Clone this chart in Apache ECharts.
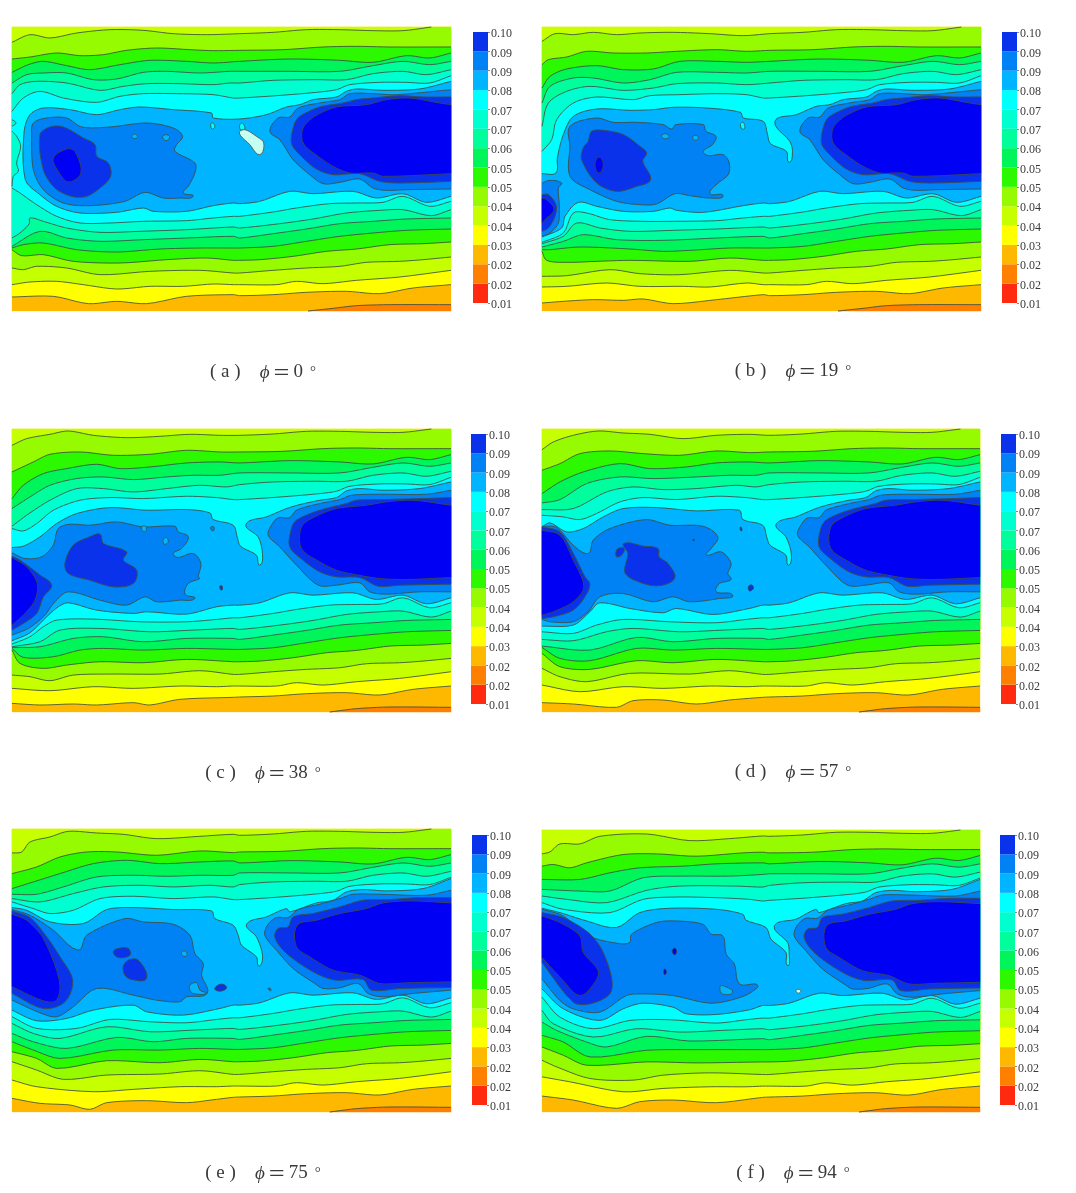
<!DOCTYPE html>
<html><head><meta charset="utf-8">
<style>html,body{margin:0;padding:0;background:#fff}#c{width:1076px;height:1193px;filter:blur(0.4px)}</style>
<script src="https://cdn.jsdelivr.net/npm/echarts@6/dist/echarts.min.js"></script></head>
<body><div id="c"></div>
<script>
// ---- legend ----
const tickLabels=['0.01','0.02','0.02','0.03','0.04','0.04','0.05','0.05','0.06','0.07','0.07','0.08','0.09','0.09','0.10'];
const bandColors=['#ff2a10','#ff8000','#ffb800','#ffff00','#c6ff00','#96fb00','#2cf800','#00f55a','#00ff9c','#00ffd0','#00ffff','#00b4ff','#0082f5','#0a32ea','#0000f5','#c4fff2'];
const captionLetters=['a','b','c','d','e','f'];
const captionAngles=[0,19,38,57,75,94];

// ---- contour positions, in axis units (x 36..1354) ----
// right-hand parts of the long contours (x counted from 720), shared by the panels
const rT=[
 [0,42,100,38,200,30,300,30,400,33,490,33,575,22,634,22],
 [0,92,130,90,250,82,350,80,450,82,634,82],
 [0,125,150,118,300,122,400,128,500,108,570,115,634,100],
 [0,155,150,155,300,155,400,138,490,125,570,135,634,125],
 [0,190,100,182,230,180,320,180,400,162,490,155,560,165,634,150],
 [0,235,110,228,230,218,290,210,330,195,420,188,500,188,570,190,634,168]];
const rB=[
 [0,828,100,825,200,818,320,815,420,822,520,805,634,795],
 [0,795,110,795,170,785,250,792,350,782,480,772,634,752],
 [0,760,100,752,200,745,300,740,380,728,480,725,550,720,634,712],
 [0,722,60,720,160,710,260,695,350,688,450,675,550,672,634,667],
 [0,685,100,680,200,665,300,650,400,640,500,632,634,628],
 [0,655,100,642,200,628,300,612,400,605,500,598,634,595],
 [0,625,120,612,220,598,320,580,420,572,490,570,575,588,634,570],
 [0,590,100,577,170,565,270,552,350,550,430,548,490,530,570,560,634,545]];
const rB11=[0,552,60,545,150,515,220,522,340,515,410,535,490,522,560,548,634,530];
const rOrangeAB=[205,874,280,866,350,858,450,855,634,855,634,874];
const rOrangeCF=[270,873,350,863,450,858,634,859,634,873];
// right-hand blob, three variants
const abT11=[180,255,220,240,290,232,320,215,350,208,430,212,540,208,634,185];
const abT12=[90,335,115,295,150,292,175,265,250,248,300,240,330,222,400,222,470,225,634,210];
const abB12=[90,335,120,360,160,420,210,465,250,492,300,488,360,478,400,505,440,512,500,510,634,508];
const abT13=[155,370,165,310,180,290,240,262,310,250,350,240,400,235,480,228,550,232,634,232];
const abB13=[155,370,185,410,230,448,280,465,360,462,420,485,480,490,634,485];
const abT14=[190,370,190,325,225,290,290,262,380,255,440,240,510,235,600,250,634,255];
const abB14=[190,370,235,410,280,440,330,460,400,460,430,470,634,462];
const cdT11=[180,250,240,237,290,229,320,209,360,202,430,207,540,202,634,182];
const cdT12=[85,342,95,312,115,290,150,289,170,267,240,247,300,235,335,222,420,219,560,219,634,207];
const cdB12=[85,342,120,377,170,432,235,492,290,492,360,485,390,512,440,519,540,512,634,512];
const cdT13=[150,377,155,322,170,297,240,267,320,247,350,237,430,235,550,232,634,229];
const cdB13=[150,377,190,417,240,452,290,467,360,469,415,495,480,492,634,489];
const cdT14=[185,382,185,317,225,287,290,262,380,252,440,242,520,237,634,252];
const cdB14=[185,382,240,422,290,447,340,459,420,472,500,475,634,469];
const efT11=[150,272,230,245,280,237,320,212,370,205,440,209,550,202,634,172];
const efT12=[75,342,85,309,110,289,145,289,175,265,240,249,300,232,340,219,420,219,560,222,634,207];
const efB12=[75,342,110,387,160,442,225,487,250,502,300,500,355,487,385,517,430,527,520,517,634,507];
const efT13=[105,347,115,322,145,317,160,287,220,277,300,257,370,237,450,235,540,229,634,229];
const efB13=[105,347,130,387,180,427,240,462,290,477,370,475,395,507,480,502,634,499];
const efT14=[170,377,172,312,230,297,300,277,380,262,430,245,510,239,634,245];
const efB14=[170,377,210,407,280,447,360,462,420,487,500,485,634,482];

// panel (a)
const aT=[
 [36,68,90,45,150,55,230,40,330,30,430,32,520,42,620,45],
 [36,118,90,112,170,100,240,108,310,105,380,92,470,85,570,90,640,93],
 [36,158,85,135,130,125,200,138,270,150,360,135,450,122,560,125,640,130],
 [36,190,80,165,130,160,200,160,280,180,350,178,430,158,500,155,600,160,690,155],
 [36,222,60,195,110,185,200,190,300,212,370,200,440,192,540,192,640,195,690,190],
 [36,275,70,235,120,215,190,235,290,248,360,230,430,222,530,222,640,225,700,235]];
const aB=[
 [36,832,160,830,265,852,350,845,440,852,560,830,700,825],
 [36,795,90,787,170,785,250,795,350,808,450,800,550,800,640,793,700,795],
 [36,745,70,750,110,740,200,745,300,765,450,755,600,752,700,760],
 [36,690,65,708,130,705,220,725,360,730,500,720,620,715,700,722],
 [36,685,70,675,130,670,230,690,350,697,480,688,600,685,700,685],
 [36,680,120,635,200,655,300,665,430,660,560,655,700,650],
 [36,655,60,640,88,612,90,595,130,605,200,625,300,638,420,635,560,630,700,622],
 [36,505,60,520,110,555,170,590,240,610,330,610,430,605,560,603,640,595,700,590]];
const aT11=[72,340,90,285,130,265,210,270,290,285,360,270,420,262,520,270,635,280,640,295,720,298,800,285,860,262];
const aB11=[76,480,120,525,170,560,240,580,350,578,430,565,460,575,560,575,640,558,700,550];
const aMarks=[
 [12,95,345,100,310,140,295,200,295,245,322,330,322,440,310,520,325,548,350,530,375,525,395,585,430,585,460,565,500,550,520,580,530,540,535,490,535,435,518,375,545,270,558,190,550,130,510,100,450],
 [13,120,345,150,322,190,322,250,355,285,375,290,410,325,430,332,470,300,505,260,530,215,530,165,505,130,450],
 [14,160,415,200,388,225,395,243,460,205,487,175,455],
 [11,395,350,405,343,413,350,405,357],[11,488,352,498,345,510,352,498,363],
 [10,633,312,640,310,645,322,636,328],[10,720,315,728,310,735,328,722,330],
 [15,718,340,735,330,770,350,792,370,780,405,750,375],
 [9,36,335,50,350,62,380,50,430,55,455,40,470,36,500],[9,36,300,48,310,36,320]];

// panel (b)
const bT=[
 [36,65,75,42,130,45,190,38,260,45,330,40,430,38,540,42,640,48],
 [36,135,55,120,110,112,170,95,250,100,350,100,440,95,560,90,650,95],
 [36,205,60,170,110,148,200,138,280,150,370,148,450,125,560,125,650,128],
 [36,250,60,200,130,175,190,175,280,190,360,180,440,158,560,158,650,160],
 [36,320,55,250,110,215,180,200,280,212,370,205,440,192,560,190,650,195],
 [36,395,65,360,80,300,130,250,200,232,310,240,360,228,450,225,560,222,650,225,700,235]];
const bB=[
 [36,850,100,845,190,840,280,842,340,838,430,852,560,840,700,825],
 [36,802,110,800,230,790,330,800,460,800,540,802,650,790,700,795],
 [36,770,110,768,240,750,330,762,450,765,600,752,700,760],
 [36,695,50,722,110,728,200,725,300,722,480,725,600,715,700,722],
 [36,690,60,690,150,682,300,688,400,695,480,692,600,685,700,685],
 [36,682,100,665,160,645,260,660,400,662,560,655,700,650],
 [36,672,100,650,140,610,210,625,300,635,430,632,560,628,700,622],
 [36,668,100,640,130,580,170,580,240,600,340,605,430,605,560,603,640,595,700,590]];
const bT11=[36,462,78,460,82,415,100,345,130,290,200,268,300,272,370,270,430,263,530,265,632,278,640,295,700,305,712,340,722,372,770,395,778,428,788,395,780,365,735,305,800,285,860,260];
const bB11=[36,652,95,625,105,590,145,548,200,560,280,575,370,575,420,565,440,572,520,578,640,558,700,550];
const bMarks=[
 [12,120,380,120,320,200,295,250,308,320,308,400,315,425,328,437,315,520,315,528,335,558,350,548,375,520,395,535,408,580,405,598,430,595,465,565,490,540,522,580,528,540,535,480,528,435,522,380,553,330,555,260,545,180,510,120,470],
 [13,175,365,185,335,220,332,280,345,330,380,350,400,338,425,362,480,320,500,260,515,200,490,155,420,160,385],
 [14,195,435,207,412,220,435,207,460],
 [12,36,490,60,482,95,490,85,505,88,560,85,610,60,640,36,650],
 [13,36,525,55,525,78,555,75,590,55,625,36,635],
 [14,36,535,50,540,72,570,45,600,36,610],
 [11,395,348,408,342,418,352,403,357],[11,488,352,498,347,506,355,495,362],
 [10,632,312,640,308,645,325,636,328]];

// panel (c)
const cT=[
 [36,75,80,55,150,42,205,32,280,45,380,52,480,48,570,42,660,45],
 [36,155,100,125,150,102,240,95,340,105,450,102,560,90,660,95],
 [36,235,70,195,130,160,200,145,290,132,360,145,450,140,560,128,660,125],
 [36,265,90,230,150,195,230,175,310,170,400,178,500,170,580,165,660,165],
 [36,318,80,285,150,240,230,205,310,205,400,215,500,205,600,195,680,200],
 [36,325,70,332,110,310,160,270,240,240,330,232,430,235,560,228,650,232,700,238]];
const cB=[
 [36,850,120,855,220,852,290,855,400,848,450,855,540,838,700,832],
 [36,805,150,812,280,800,400,805,540,798,650,800,700,798],
 [36,765,90,770,150,782,220,765,340,762,480,762,600,752,700,763],
 [36,690,60,730,130,745,200,735,300,725,430,728,560,718,700,725],
 [36,685,70,712,160,710,240,690,310,685,430,690,560,685,700,688],
 [36,682,120,680,220,655,310,650,430,665,560,655,700,655],
 [36,680,120,665,180,630,300,625,450,635,580,630,700,625],
 [36,672,90,650,130,620,170,600,280,597,420,605,560,605,650,598,700,593]];
const cT11=[36,382,70,378,120,350,170,310,230,280,330,262,440,270,560,268,630,278,640,298,700,315,712,350,722,378,770,405,780,435,788,400,775,350,738,312,800,290,860,265];
const cB11=[36,662,90,638,140,590,175,560,205,548,290,570,400,580,440,575,560,582,650,560,700,555];
const cMarks=[
 [12,36,398,75,415,125,410,160,375,175,325,210,312,270,315,350,305,430,320,525,318,535,335,565,350,545,385,520,400,535,412,580,400,603,430,595,470,600,475,565,490,555,522,585,535,540,540,470,545,435,530,380,555,300,540,205,515,165,545,130,590,85,625,36,645],
 [13,36,408,60,420,120,465,155,495,130,530,110,580,70,610,36,630],
 [14,36,412,80,440,112,490,105,540,75,580,36,615],
 [13,195,430,220,375,270,350,300,342,310,370,380,395,370,420,410,450,400,490,340,500,270,480,205,460],
 [11,425,320,440,320,433,335],[11,490,358,500,352,505,365,493,372],
 [12,632,322,642,320,640,332],[13,660,498,667,498,665,510]];

// panel (d)
const dT=[
 [36,88,70,65,130,45,205,32,280,38,360,42,460,55,560,45,660,42],
 [36,150,90,130,150,100,240,92,340,100,450,105,560,92,660,97],
 [36,220,90,185,160,155,270,130,360,145,470,140,560,128,660,125],
 [36,248,90,238,170,190,270,170,370,175,500,170,600,165,680,165],
 [36,268,130,265,230,215,310,200,400,208,500,205,620,195,680,200],
 [36,285,100,290,150,298,200,280,270,245,340,232,440,238,560,228,650,232,700,238]];
const dB=[
 [36,848,130,852,260,862,310,842,400,840,500,852,600,840,700,832],
 [36,795,150,815,280,800,400,805,540,798,650,800,700,798],
 [36,745,90,770,170,785,300,760,480,762,600,752,700,763],
 [36,700,90,740,180,748,320,722,430,728,560,718,700,725],
 [36,682,90,715,180,722,320,685,430,690,560,685,700,688],
 [36,678,180,690,320,652,430,665,560,655,700,655],
 [36,658,130,662,230,635,310,625,450,635,580,630,700,625],
 [36,635,130,640,200,615,280,598,420,605,560,608,650,598,700,593]];
const dT11=[36,320,60,308,110,335,160,325,220,290,280,265,380,262,500,272,630,270,640,298,700,315,712,350,722,375,770,405,778,435,786,400,770,350,740,312,800,290,860,265];
const dB11=[36,618,130,615,180,575,210,548,300,565,400,578,440,565,550,583,660,565,700,555];
const dMarks=[
 [12,36,318,80,322,130,375,175,400,190,360,240,325,350,298,420,315,520,318,565,350,545,385,530,405,575,395,605,430,595,460,605,478,570,490,560,515,610,525,570,535,480,545,430,530,370,545,280,520,210,530,175,575,130,605,60,605,36,598],
 [13,36,320,90,335,130,400,165,470,180,492,165,530,130,570,70,590,36,595],
 [14,36,330,90,345,130,420,162,500,130,545,70,575,36,585],
 [13,282,370,340,378,385,385,388,410,415,430,435,475,380,497,310,478,285,455,295,400],
 [13,258,400,265,385,283,385,275,405,262,410],
 [13,658,498,668,495,672,505,660,512],[13,632,322,636,322,636,332],[13,490,358,494,358,492,362]];

// panel (e)
const eT=[
 [36,98,65,95,90,65,150,50,205,33,290,38,370,42,470,55,600,48,700,42],
 [36,160,110,140,180,110,260,95,350,95,470,105,600,92,700,97],
 [36,205,100,185,180,160,280,130,380,120,480,130,600,125,700,122],
 [36,222,110,222,190,200,290,170,400,165,500,168,600,165,700,165],
 [36,235,120,245,220,220,310,200,420,195,520,200,630,195,700,200],
 [36,245,100,265,150,280,220,270,300,235,400,228,520,235,640,230,700,238]];
const eB=[
 [36,835,120,850,210,855,270,868,320,848,440,842,560,848,650,838,700,832],
 [36,780,110,800,280,815,400,808,540,800,650,800,700,798],
 [36,725,110,750,190,778,320,765,480,762,600,752,700,763],
 [36,695,110,715,170,745,320,722,480,728,600,718,700,725],
 [36,665,100,690,180,715,340,690,480,690,600,685,700,688],
 [36,640,100,665,200,685,350,652,460,665,560,655,700,655],
 [36,610,100,640,180,655,320,620,450,635,580,630,700,625],
 [36,590,110,625,230,625,330,598,450,605,560,608,650,598,700,593]];
const eT11=[36,262,80,270,150,305,250,310,320,268,400,262,520,268,635,272,645,295,700,315,715,345,725,375,770,410,778,438,788,405,770,350,740,312,800,290,860,265];
const eB11=[36,570,110,602,200,595,280,570,400,555,440,575,550,585,660,565,700,555];
const eMarks=[
 [12,36,268,90,285,160,330,235,390,260,345,375,295,430,305,520,312,570,345,585,400,610,430,605,465,622,520,560,530,540,545,470,540,400,525,290,505,220,560,170,590,120,578,36,540],
 [13,36,272,90,292,140,350,180,410,218,480,195,545,130,565,36,520],
 [14,36,282,80,300,130,355,178,480,170,540,130,542,36,500],
 [13,340,395,355,385,385,385,390,405,355,412],
 [13,370,440,385,420,415,420,440,475,395,478,375,465],
 [13,645,505,665,492,680,503,660,513],
 [11,570,495,590,488,600,510,620,520,580,520,570,510],
 [11,545,397,555,392,562,405,550,408],[12,805,505,812,505,812,512]];

// panel (f)
const fT=[
 [36,98,60,92,90,68,150,68,210,45,350,38,480,58,600,52,700,44],
 [36,135,70,130,120,140,170,125,280,100,380,98,500,105,640,95,700,93],
 [36,175,150,175,240,155,330,140,460,135,560,128,700,125],
 [36,205,150,210,240,210,340,170,460,165,600,165,700,160],
 [36,225,110,235,230,245,350,208,450,195,620,195,700,198],
 [36,245,100,265,240,275,340,235,440,228,560,230,660,235,700,240]];
const fB=[
 [36,828,130,840,260,865,330,845,430,840,560,848,700,832],
 [36,770,120,785,280,815,400,805,540,800,650,800,700,798],
 [36,720,80,740,180,775,310,780,400,765,540,758,700,763],
 [36,680,100,705,170,735,350,725,500,728,700,725],
 [36,645,100,665,180,710,350,690,500,688,700,688],
 [36,605,80,630,170,665,230,680,350,648,480,662,700,655],
 [36,570,70,610,190,650,320,625,450,635,580,630,700,625],
 [36,530,90,590,190,625,300,600,420,598,560,608,650,598,700,593]];
const fT11=[36,262,90,275,170,300,260,320,330,275,420,262,560,265,640,280,650,298,710,320,725,355,770,395,775,435,780,400,775,365,735,315,800,295,860,265];
const fB11=[36,505,100,565,210,600,280,565,340,548,430,560,470,580,560,582,660,568,700,555];
const fMarks=[
 [12,36,265,100,285,175,345,265,368,300,365,305,340,380,305,430,300,520,310,545,340,580,345,590,400,615,430,630,490,680,490,685,500,640,528,545,548,430,525,340,520,290,525,210,575,130,565,90,540,36,475],
 [13,36,275,100,290,175,335,215,385,245,470,240,520,180,550,130,545,36,425],
 [14,36,285,90,305,150,345,160,395,205,450,195,485,150,525,100,480,36,410],
 [11,572,497,585,497,610,515,578,520],
 [14,428,390,435,382,441,392,435,402],[14,402,452,406,445,410,455,405,462],
 [15,800,510,808,506,815,512,807,518]];

// ---- layout ----
const plotBoxes=[[12,27,439,284],[542,27,439,284],[12,429,439,283],[542,429,438,283],[12,829,439,283],[542,830,438,282]];
const barBoxes=[[473,32,15,271],[1002,32,15,271],[471,434,15,270],[1001,434,15,270],[472,835,15,270],[1000,835,15,270]];
const captionPos=[[258,369],[788,368],[258,770],[788,769],[258,1170],[788,1170]];
const yRanges=[[22,874],[22,874],[26,876],[26,876],[26,876],[26,876]];
const xRange=[36,1354];

const pts=f=>{const o=[];for(let i=0;i<f.length;i+=2)o.push([f[i],f[i+1]]);return o;};
function buildRings(T,B,T11,B11,marks,g,idx){
  const [y0,y1]=yRanges[idx],dy=idx<2?0:3;
  const cl=p=>[p[0],Math.min(y1,Math.max(y0,p[1]))];
  const L=f=>pts(f).map(cl);
  const R=f=>pts(f).map(p=>cl([p[0]+720,p[1]+dy]));
  const rev=a=>a.slice().reverse();
  const [x0,x1]=xRange,rings=[];
  rings.push({b:2,p:[[x0,y0],[x1,y0],[x1,y1],[x0,y1]]});
  rings.push({b:1,p:pts(g.orange).map(p=>cl([p[0]+720,idx<2?p[1]:p[1]+3]))});
  for(let k=3;k<=10;k++){
    const bot=[...L(B[k-3]),...R(rB[k-3])];
    const top=k<5?[[x0,y0],[x1,y0]]:[...L(T[k-5]),...R(rT[k-5])];
    rings.push({b:k,p:[...top,...rev(bot)]});
  }
  rings.push({b:11,p:[...L(T11),...pts(g.t11).map(p=>cl([p[0]+720,p[1]+dy])),...rev(R(rB11)),...rev(L(B11))]});
  const blob=(b,t,u)=>rings.push({b,p:[...R(t),...rev(R(u)).slice(0,-1)]});
  blob(12,g.t12,g.b12);blob(13,g.t13,g.b13);blob(14,g.t14,g.b14);
  marks.forEach(m=>rings.push({b:m[0],p:L(m.slice(1))}));
  return rings;
}
const gAB={orange:rOrangeAB,t11:abT11,t12:abT12,b12:abB12,t13:abT13,b13:abB13,t14:abT14,b14:abB14};
const gCD={orange:rOrangeCF,t11:cdT11,t12:cdT12,b12:cdB12,t13:cdT13,b13:cdB13,t14:cdT14,b14:cdB14};
const gEF={orange:rOrangeCF,t11:efT11,t12:efT12,b12:efB12,t13:efT13,b13:efB13,t14:efT14,b14:efB14};
const allRings=[
 buildRings(aT,aB,aT11,aB11,aMarks,gAB,0),buildRings(bT,bB,bT11,bB11,bMarks,gAB,1),
 buildRings(cT,cB,cT11,cB11,cMarks,gCD,2),buildRings(dT,dB,dT11,dB11,dMarks,gCD,3),
 buildRings(eT,eB,eT11,eB11,eMarks,gEF,4),buildRings(fT,fB,fT11,fB11,fMarks,gEF,5)];

// draws a run of screen points with rounded joints, like a line series' smooth option
function curve(P,closed){
  const n=P.length;
  if(n<3) return P;
  const at=i=>closed?P[(i+n)%n]:P[Math.max(0,Math.min(n-1,i))];
  const unit=(a,b)=>{const dx=b[0]-a[0],dy=b[1]-a[1],l=Math.hypot(dx,dy)||1;return [dx/l,dy/l];};
  const out=[P[0]],segs=closed?n:n-1;
  for(let i=0;i<segs;i++){
    const a=at(i),b=at(i+1),t1=unit(at(i-1),b),t2=unit(a,at(i+2));
    const l=Math.hypot(b[0]-a[0],b[1]-a[1])*0.3;
    const c1=[a[0]+t1[0]*l,a[1]+t1[1]*l],c2=[b[0]-t2[0]*l,b[1]-t2[1]*l];
    for(let k=1;k<=5;k++){
      const t=k/5,u=1-t;
      out.push([u*u*u*a[0]+3*u*u*t*c1[0]+3*u*t*t*c2[0]+t*t*t*b[0],u*u*u*a[1]+3*u*u*t*c1[1]+3*u*t*t*c2[1]+t*t*t*b[1]]);
    }
  }
  return out;
}

const grid=[],xAxis=[],yAxis=[],series=[],title=[];
const serif='"Liberation Serif","Times New Roman",serif';
const txt={fontFamily:serif,fontWeight:'normal',color:'#3a3a3a'};
plotBoxes.forEach((box,i)=>{
  const gi=grid.length;
  grid.push({left:box[0],top:box[1],width:box[2],height:box[3]});
  xAxis.push({type:'value',gridIndex:gi,min:xRange[0],max:xRange[1],show:false});
  yAxis.push({type:'value',gridIndex:gi,min:yRanges[i][0],max:yRanges[i][1],inverse:true,show:false});
  const rings=allRings[i],[y0,y1]=yRanges[i];
  series.push({type:'custom',coordinateSystem:'cartesian2d',xAxisIndex:gi,yAxisIndex:gi,silent:true,animation:false,
    data:rings.map((r,k)=>[r.p[0][0],r.p[0][1],k]),encode:{x:0,y:1},
    renderItem(params,api){
      const r=rings[params.dataIndex];
      const onEdge=(a,b)=>(a[0]===b[0]&&(a[0]===xRange[0]||a[0]===xRange[1]))||(a[1]===b[1]&&(a[1]===y0||a[1]===y1));
      const n=r.p.length,runs=[];
      let start=-1;
      for(let s=0;s<n;s++) if(onEdge(r.p[s],r.p[(s+1)%n])){start=(s+1)%n;break;}
      if(start<0){
        runs.push(curve(r.p.map(p=>api.coord(p)),true));
      }else{
        let cur=[r.p[start]];
        for(let s=0;s<n;s++){
          const a=(start+s)%n,b=(a+1)%n;
          if(onEdge(r.p[a],r.p[b])){runs.push(cur);cur=[r.p[b]];}
          else cur.push(r.p[b]);
        }
        if(cur.length>1)runs.push(cur);
        runs.forEach((run,k)=>{runs[k]=curve(run.map(p=>api.coord(p)),false);});
      }
      const fill=[].concat(...runs);
      const children=[{type:'polygon',shape:{points:fill},style:{fill:bandColors[r.b],stroke:bandColors[r.b],lineWidth:0.3}}];
      runs.forEach(run=>{if(run.length>1)children.push({type:'polyline',shape:{points:start<0?run.concat([run[0]]):run},style:{fill:null,stroke:'#3e4e40',lineWidth:0.85,lineJoin:'round'}});});
      return {type:'group',children};
    }});
  // colour bar
  const bb=barBoxes[i],gj=grid.length;
  grid.push({left:bb[0],top:bb[1],width:bb[2],height:bb[3]});
  xAxis.push({type:'category',gridIndex:gj,data:['scale'],show:false});
  yAxis.push({type:'value',gridIndex:gj,min:0,max:14,interval:1,position:'right',
    axisLine:{show:false},splitLine:{show:false},axisTick:{show:true,length:2,lineStyle:{color:'#888',width:1}},
    axisLabel:{margin:3,fontFamily:serif,fontSize:12,color:'#3a3a3a',verticalAlign:'top',lineHeight:4,formatter:v=>tickLabels[v]}});
  bandColors.slice(0,14).forEach((c,k)=>series.push({type:'bar',xAxisIndex:gj,yAxisIndex:gj,stack:'s'+i,barWidth:'100%',silent:true,animation:false,itemStyle:{color:c},data:[1]}));
  // caption
  title.push({left:captionPos[i][0],top:captionPos[i][1]-11,textAlign:'center',
    text:`{t|( ${captionLetters[i]} )}{p|ϕ}{e|＝}{t|${captionAngles[i]}}{d|°}`,
    textStyle:{fontWeight:'normal',rich:{t:{...txt,fontSize:19},
      p:{...txt,fontStyle:'italic',fontSize:19,padding:[0,3,0,19]},
      e:{...txt,fontFamily:'"Noto Sans CJK SC"',fontSize:18,padding:[0,3,0,0]},
      d:{...txt,fontSize:15,padding:[0,0,0,7]}}}});
});
const chart=echarts.init(document.getElementById('c'),null,{renderer:'canvas'});
chart.setOption({animation:false,backgroundColor:'#fff',title,grid,xAxis,yAxis,series,tooltip:{show:false}});
</script></body></html>
